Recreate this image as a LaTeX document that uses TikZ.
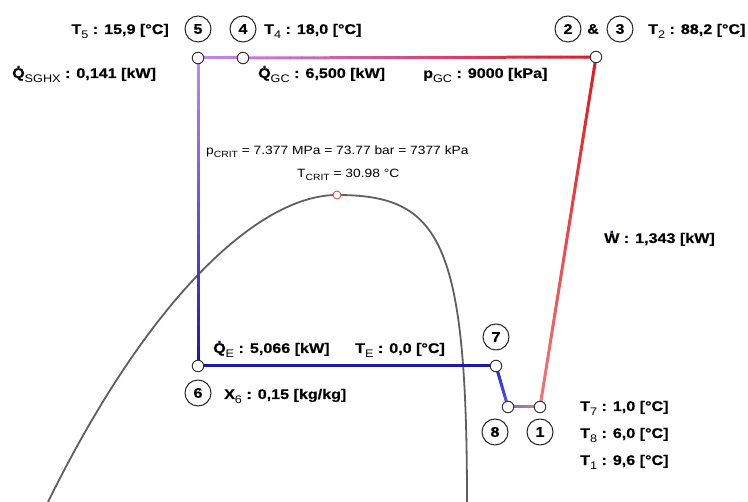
\documentclass[tikz,border=0pt]{standalone}
\usepackage{fontspec}
\setmainfont{Liberation Sans}[FakeStretch=1.15, BoldFeatures={FakeBold=0.4}]
\usetikzlibrary{calc}
\definecolor{lav}{RGB}{190,140,235}
\definecolor{lav2}{RGB}{195,125,220}
\definecolor{hotred}{RGB}{225,25,30}
\definecolor{pinkred}{RGB}{240,120,120}
\definecolor{violetb}{RGB}{110,110,230}
\definecolor{midblue}{RGB}{85,95,230}
\definecolor{deepblue}{RGB}{40,40,205}
\definecolor{navyline}{RGB}{25,25,170}
\definecolor{vblue}{RGB}{25,20,185}
\definecolor{dotc}{RGB}{20,20,110}
\definecolor{critred}{RGB}{220,80,80}
\definecolor{domegray}{RGB}{95,95,95}
\newcommand\lblfont{\fontsize{14}{16}\selectfont\bfseries}
\newcommand\sbs[1]{\raisebox{-0.3em}{\fontsize{11}{12}\selectfont\mdseries #1}}
\newcommand\csbs[1]{\raisebox{-0.25em}{\fontsize{9}{10}\selectfont #1}}
\newcommand\dotted[1]{\ooalign{#1\cr\hidewidth\raisebox{0.72em}{\textcolor{dotc}{.}}\hidewidth\cr}}
\newcommand\gradseg[4]{%
  \foreach \i in {1,...,30}{%
    \pgfmathsetmacro\ta{(\i-1)/30}%
    \pgfmathsetmacro\tb{\i/30}%
    \pgfmathtruncatemacro\pc{100*(\i-0.5)/30}%
    \draw[cyc, color=#4!\pc!#3] ($(#1)!\ta!(#2)$) -- ($(#1)!\tb!(#2)$);
  }}
\begin{document}
\begin{tikzpicture}[x=1pt,y=-1pt,
  cyc/.style={line width=3pt, line cap=round},
  ptn/.style={circle, draw=black!80, fill=white, line width=1pt, minimum size=11.5pt, inner sep=0pt},
  numc/.style={circle, draw=black!85, line width=1pt, minimum size=26pt, inner sep=0pt, font=\lblfont},
  lbl/.style={anchor=base west, inner sep=0pt, font=\lblfont},
  small/.style={anchor=base west, inner sep=0pt, font=\fontsize{12}{14}\selectfont},
  dome/.style={draw=domegray, line width=1.8pt}]
\useasboundingbox (0,0) rectangle (748,502);
\coordinate (c5) at (198,58);
\coordinate (c4) at (243,58);
\coordinate (c2) at (596,57);
\coordinate (c1) at (540,407);
\coordinate (c8) at (508,407);
\coordinate (c7) at (496,366);
\coordinate (c6) at (198,366);
\coordinate (crit) at (337,195);
\coordinate (domeL) at (48,502);
\coordinate (domeR) at (467,502);
% saturation dome
\draw[dome] (domeL) .. controls (150,295) and (260,195) .. (crit)
                    .. controls (440,195) and (467,240) .. (domeR);
% cycle
\gradseg{c5}{c4}{lav}{lav2}
\gradseg{c4}{c2}{lav2}{hotred}
\gradseg{c2}{c1}{hotred}{pinkred}
\gradseg{c1}{c8}{pinkred}{violetb}
\gradseg{c8}{c7}{midblue}{deepblue}
\draw[cyc, navyline] (c7) -- (c6);
\gradseg{c6}{c5}{vblue}{lav}
% state points
\node[ptn] (p5) at (c5) {};
\node[ptn] (p4) at (c4) {};
\node[ptn] (p2) at (c2) {};
\node[ptn] (p1) at (c1) {};
\node[ptn] (p8) at (c8) {};
\node[ptn] (p7) at (c7) {};
\node[ptn] (p6) at (c6) {};
\node[circle, draw=critred, fill=white, line width=0.9pt, minimum size=8pt, inner sep=0pt] (cp) at (crit) {};
% number circles
\node[numc] (n5) at (198,29) {5};
\node[numc] (n4) at (243,29) {4};
\node[numc] (n2) at (568,29) {2};
\node[font=\lblfont, inner sep=0pt] (amp) at (593,29) {\&};
\node[numc] (n3) at (620,29) {3};
\node[numc] (n7) at (496,337) {7};
\node[numc] (n6) at (198,393) {6};
\node[numc] (n8) at (495,432) {8};
\node[numc] (n1) at (540,432) {1};
% labels
\node[lbl, anchor=base east] (t5) at (169,34) {T\sbs{5} : 15,9 [°C]};
\node[lbl] (t4) at (264,34) {T\sbs{4} : 18,0 [°C]};
\node[lbl] (t2) at (648,34) {T\sbs{2} : 88,2 [°C]};
\node[lbl] (qs) at (12,78) {\dotted{Q}\sbs{SGHX} : 0,141 [kW]};
\node[lbl] (qgc) at (258,78) {\dotted{Q}\sbs{GC} : 6,500 [kW]};
\node[lbl] (pgc) at (423,78) {p\sbs{GC} : 9000 [kPa]};
\node[small] (pcrit) at (206,155) {p\csbs{CRIT} = 7.377 MPa = 73.77 bar = 7377 kPa};
\node[small] (tcrit) at (297,178) {T\csbs{CRIT} = 30.98 °C};
\node[lbl] (w) at (604,243) {\dotted{W} : 1,343 [kW]};
\node[lbl] (qe) at (213,353) {\dotted{Q}\sbs{E} : 5,066 [kW]};
\node[lbl] (te) at (355,353) {T\sbs{E} : 0,0 [°C]};
\node[lbl] (x6) at (224,399) {X\sbs{6} : 0,15 [kg/kg]};
\node[lbl] (t7) at (580,411) {T\sbs{7} : 1,0 [°C]};
\node[lbl] (t8) at (580,438) {T\sbs{8} : 6,0 [°C]};
\node[lbl] (t1) at (580,465) {T\sbs{1} : 9,6 [°C]};
\end{tikzpicture}
\end{document}
